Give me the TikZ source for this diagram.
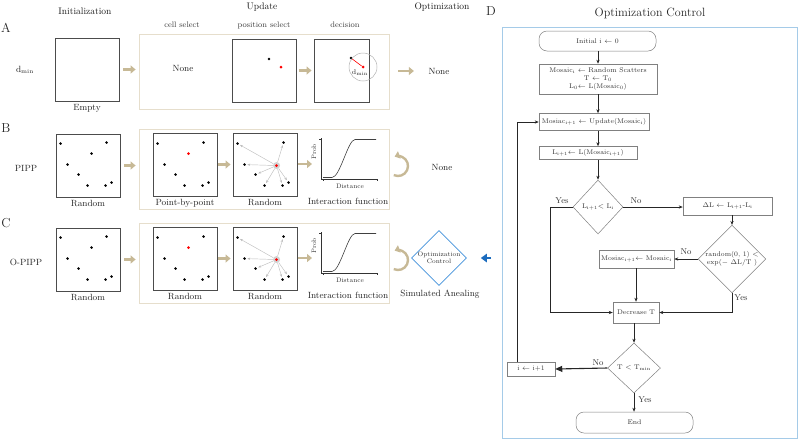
\documentclass[tikz,border=0pt]{standalone}
\usepackage{fontspec}
\usepackage{tikz}
\usetikzlibrary{arrows.meta,calc,positioning,shapes.geometric}
\usepackage{xcolor}

\definecolor{tanarrow}{RGB}{199,185,150}
\definecolor{framebeige}{RGB}{230,222,204}
\definecolor{ctrlblue}{RGB}{66,145,218}
\definecolor{feedblue}{RGB}{28,108,190}
\definecolor{paneblue}{RGB}{165,203,232}
\newcommand{\fsz}[2]{\fontsize{#1}{#2}\selectfont}

\begin{document}
\begin{tikzpicture}[
    x=1pt,y=-1pt,
    panel/.style={draw=black!70,line width=.9pt,minimum width=64pt,minimum height=63pt,inner sep=0pt},
    upd/.style={draw=framebeige,line width=.8pt,minimum width=250pt,inner sep=0pt},
    lab/.style={font=\fsz{9}{10},text=black!85,inner sep=1.5pt},
    hdr/.style={font=\fsz{9.5}{11},text=black!90},
    sub/.style={font=\fsz{8}{9},text=black!75},
    letter/.style={font=\fsz{13}{15},text=black!85},
    fat/.style={-{Triangle[length=5pt,width=8pt]},line width=2.6pt,tanarrow},
    cyc/.style={-{Triangle[length=5pt,width=7.5pt]},line width=2.4pt,tanarrow},
    dot/.style={circle,fill=black,inner sep=0pt,minimum size=2.8pt},
    rdot/.style={circle,fill=red,inner sep=0pt,minimum size=3pt},
    ray/.style={-{Stealth[length=3pt,width=2.4pt]},line width=.45pt,black!25,shorten >=1.2pt},
    fbox/.style={draw=black!50,line width=.5pt,font=\fsz{6.8}{7.6},text=black!80,inner sep=1pt,align=center},
    fterm/.style={fbox,rounded corners=8pt},
    fdec/.style={diamond,draw=black!50,line width=.5pt,font=\fsz{6.8}{7.6},text=black!80,inner sep=0pt,align=center},
    fl/.style={-{Stealth[length=4pt,width=3.2pt]},line width=.6pt,black!85},
    yn/.style={font=\fsz{8.5}{10},text=black!80,inner sep=1pt}
  ]
  \useasboundingbox (0,0) rectangle (800,440);

  % column heads
  \node[hdr] (hinit) at (85,11) {Initialization};
  \node[hdr] (hupd) at (262,7) {Update};
  \node[hdr] (hopt) at (442,7) {Optimization};
  \node[sub] (scell) at (182,25) {cell select};
  \node[sub] (spos) at (264,25) {position select};
  \node[sub] (sdec) at (345,25) {decision};
  \node[letter] (la) at (6,28) {A};
  \node[letter] (lb) at (6,128) {B};
  \node[letter] (lc) at (6,223) {C};
  \node[letter] (ld) at (491,11) {D};

  % row A
  \node[lab] (mA) at (25,70) {d$_{\mathrm{min}}$};
  \node[upd,minimum height=75pt] (updA) at (264,71.5) {};
  \node[panel] (initA) at (87,69.5) {};
  \node[lab,below=1pt of initA] (initAl) {Empty};
  \node[lab] (cellA) at (183,68) {None};
  \node[panel] (posA) at (264.5,70.5) {};
  \node[dot] (pA1) at (269,59) {};
  \node[rdot] (pA2) at (281,67) {};
  \node[panel,minimum width=55pt] (decA) at (341.5,70.5) {};
  \node[dot] (dA1) at (351,58) {};
  \node[rdot] (dA2) at (363,67) {};
  \draw[black!30,line width=.5pt] (dA2) circle[radius=14pt];
  \draw[red,line width=.6pt] (dA1) -- (dA2);
  \node[font=\fsz{7}{8},text=black!85,inner sep=0pt] (dmA) at (360,73) {d$_{\mathrm{min}}$};
  \node[lab] (optA) at (439,71) {None};
  \draw[fat,shorten <=4pt,shorten >=3pt] (initA.east) -- (initA.east -| updA.west);
  \draw[fat,shorten <=2pt,shorten >=2pt] (posA.east) -- (decA.west);
  \draw[fat,shorten <=9pt,shorten >=13pt] (updA.east |- optA) -- (optA.west);

  % rows B and C
  \foreach \r/\b/\nm/\sel in {B/0/PIPP/Point-by-point,C/94/O-PIPP/Random}{
    \node[lab] (m\r) at (26,168+\b) {\nm};
    \node[upd,minimum height=80pt] (upd\r) at (264,169+\b) {};
    \node[panel] (init\r) at (88,165.5+\b) {};
    \node[lab,below=1pt of init\r] (init\r l) {Random};
    \node[panel] (sel\r) at (185,164.5+\b) {};
    \node[lab,below=1pt of sel\r] (sel\r l) {\sel};
    \node[panel] (pos\r) at (265,164.5+\b) {};
    \node[lab,below=1pt of pos\r] (pos\r l) {Random};
    \foreach \n/\dx/\dy in {1/5/10,2/51/9,3/12/31,4/23/41,5/32/52,6/50/52,7/56/49}{
      \node[dot] (i\r\n) at ([shift={(\dx,\dy)}]init\r.north west) {};
      \node[dot] (s\r\n) at ([shift={(\dx,\dy+1)}]sel\r.north west) {};
      \node[dot] (p\r\n) at ([shift={(\dx,\dy+1)}]pos\r.north west) {};
    }
    \node[dot] (i\r8) at ([shift={(36,20)}]init\r.north west) {};
    \node[rdot] (s\r8) at ([shift={(36,21)}]sel\r.north west) {};
    \node[circle,fill=black!18,inner sep=0pt,minimum size=7pt] (g\r) at ([shift={(44,33)}]pos\r.north west) {};
    \node[rdot] (p\r8) at (g\r) {};
    \foreach \n in {1,...,7}{\draw[ray] (g\r) -- (p\r\n);}
    % interaction function
    \coordinate (ax\r) at (321,179+\b);
    \coordinate (plt\r) at (312,164+\b);
    \draw[line width=.5pt,black!80] ($(ax\r)+(0,-41)$) -- (ax\r) -- ++(57,0);
    \draw[line width=.4pt,black!80] ($(ax\r)+(0,-40)$) -- ++(-2,0) ($(ax\r)+(2,0)$) -- ++(0,2) ($(ax\r)+(56,0)$) -- ++(0,2);
    \draw[black!75,line width=.6pt] ($(ax\r)+(2,-1.5)$) -- ++(9,0) .. controls +(8,0) and +(-7,0) .. ++(23,-38) -- ++(21,0);
    \node[font=\fsz{6.5}{7.5},text=black!80,rotate=90,inner sep=0pt] (pr\r) at ($(ax\r)+(-7,-27)$) {Prob};
    \node[font=\fsz{6.5}{7.5},text=black!80,inner sep=0pt] (di\r) at ($(ax\r)+(29,7)$) {Distance};
    \node[lab] (if\r) at ($(ax\r)+(27,22)$) {Interaction function};
    % arrows
    \draw[fat,shorten <=4pt,shorten >=3pt] (init\r.east) -- (init\r.east -| upd\r.west);
    \draw[fat,shorten <=1pt,shorten >=2pt] (sel\r.east) -- (sel\r.east -| pos\r.west);
    \draw[fat,shorten <=1pt] (pos\r.east |- plt\r) -- (plt\r);
    \draw[cyc] (398,166+\b) ++(-115:10pt) arc[start angle=-115,end angle=110,radius=10pt];
  }
  \node[lab] (optB) at (442,167) {None};
  \node[diamond,draw=ctrlblue,line width=.7pt,minimum width=50pt,minimum height=50pt,inner sep=0pt,align=center,font=\fsz{6.5}{7.5},text=black!80] (optC) at (439,258) {Optimization\\Control};
  \node[lab] (saC) at (440,294) {Simulated Anealing};
  \coordinate (feed) at (491,258);
  \draw[-{Triangle[length=6pt,width=8.5pt]},line width=2.4pt,feedblue,shorten >=14pt] (feed) -- (optC.east);

  % D: optimization control
  \node[draw=paneblue,line width=.8pt,minimum width=295pt,minimum height=411pt,inner sep=0pt] (pane) at (649.5,232.5) {};
  \node[font=\fsz{12}{14},text=black!85] (ptitle) at (650,13) {Optimization Control};
  \node[fterm,minimum width=117pt,minimum height=20pt] (start) at (597.5,41) {Initial i $\leftarrow$ 0};
  \node[fbox,minimum width=118pt,minimum height=30pt] (seed) at (598,79) {Mosaic$_\mathrm{i}$ $\leftarrow$ Random Scatters\\T $\leftarrow$ T$_0$\\L$_0$$\leftarrow$ L(Mosaic$_0$)};
  \node[fbox,minimum width=110pt,minimum height=17pt] (step) at (594,122) {Mosiac$_{\mathrm{i+1}}$ $\leftarrow$ Update(Mosaic$_\mathrm{i}$)};
  \node[fbox,minimum width=98pt,minimum height=13pt] (loss) at (588,153) {L$_{\mathrm{i+1}}$$\leftarrow$ L(Mosaic$_{\mathrm{i+1}}$)};
  \node[fdec,minimum width=50pt,minimum height=54pt] (cmp) at (598,207) {L$_{\mathrm{i+1}}$$<$ L$_\mathrm{i}$};
  \node[fbox,minimum width=89pt,minimum height=18pt] (dl) at (727.5,206) {$\Delta$L $\leftarrow$ L$_{\mathrm{i+1}}$-L$_\mathrm{i}$};
  \node[fdec,minimum width=65pt,minimum height=63pt] (acc) at (732,259) {random(0, 1) $<$\\exp($-$ $\Delta$L/T )};
  \node[fbox,minimum width=75pt,minimum height=18pt] (keep) at (636.5,259) {Mosiac$_{\mathrm{i+1}}$$\leftarrow$ Mosaic$_\mathrm{i}$};
  \node[fbox,minimum width=46pt,minimum height=21pt] (cool) at (636,312.5) {Decrease T};
  \node[fdec,minimum width=53pt,minimum height=50pt] (stop) at (634,368) {T $<$ T$_{\mathrm{min}}$};
  \node[fbox,minimum width=48pt,minimum height=14pt] (inc) at (531,369) {i $\leftarrow$ i+1};
  \node[fterm,minimum width=117pt,minimum height=21pt] (fin) at (634.5,422.5) {End};
  \node[yn] (y1) at (562,201) {Yes};
  \node[yn] (n1) at (636,201) {No};
  \node[yn] (n2) at (686,252) {No};
  \node[yn] (y2) at (741,298) {Yes};
  \node[yn] (n3) at (598,363) {No};
  \node[yn] (y3) at (645,400) {Yes};
  \draw[fl] (start.south -| cmp) -- (seed.north -| cmp);
  \draw[fl] (seed.south -| cmp) -- (step.north -| cmp);
  \draw[fl] (step.south -| cmp) -- (loss.north -| cmp);
  \draw[fl] (loss.south -| cmp) -- (cmp.north);
  \draw[fl] (cmp.east) -- (dl.west |- cmp.east);
  \draw[fl] (cmp.west) -- ++(-22,0) |- (cool.west);
  \draw[fl] (dl.south -| acc) -- (acc.north);
  \draw[fl] (acc.west) -- (keep.east);
  \draw[fl] (acc.south) |- (cool.east);
  \draw[fl] (keep.south -| cool) -- (cool.north);
  \draw[fl] (cool.south -| stop) -- (stop.north);
  \draw[fl,line width=1.1pt,-{Triangle[length=7pt,width=6pt]}] (stop.west) -- (inc.east);
  \draw[fl] (stop.south) -- (fin.north -| stop);
  \draw[fl] ([xshift=-14pt]inc.north) |- (step.west);
\end{tikzpicture}
\end{document}
